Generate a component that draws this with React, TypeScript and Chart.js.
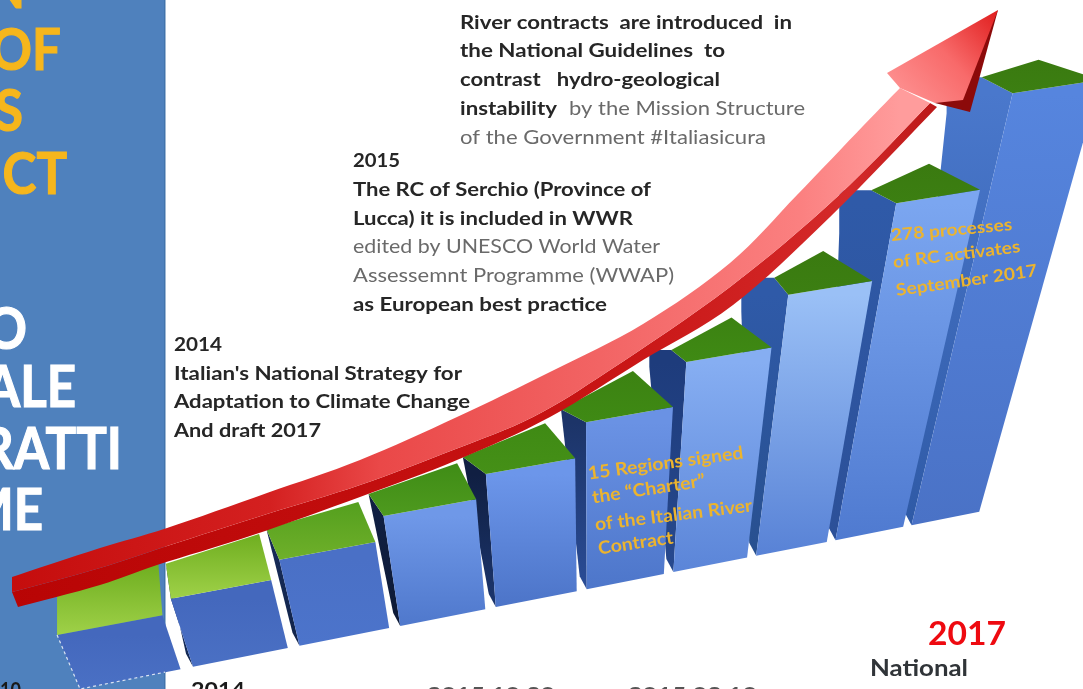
import React, { useEffect, useRef } from "react";
import { Chart, registerables } from "chart.js";

Chart.register(...registerables);

// ---- data ----
const barSlots = [16, 17, 18, 19, 20, 21, 22, 23, 24, 25];
const barHeights = [54, 68, 86, 110, 133, 167, 210, 261, 337, 432];

const arrowUpperX = [12, 100, 167, 267, 360, 457, 550, 643, 730, 797, 863, 900];
const arrowUpperY = [577, 548, 528, 493, 460, 417, 372, 324, 263, 195, 126, 88];
const arrowFoldX = [12, 100, 167, 267, 360, 453, 533, 610, 730, 837, 930];
const arrowFoldY = [592, 568, 546, 514, 485, 450, 417, 370, 287, 197, 103];
const arrowUnderX = [18, 100, 157, 253, 360, 457, 550, 643, 733, 830, 937];
const arrowUnderY = [607, 585, 565, 535, 497, 460, 417, 360, 305, 217, 107];
const arrowHeadX = [900, 887, 998, 970, 935];
const arrowHeadY = [88, 73, 10, 112, 103];

const panelOrange = ["OF", "S", "CT"];
const panelWhite = ["O", "ALE", "RATTI", "ME"];

const river2016 = [
  "River contracts  are introduced  in",
  "the National Guidelines  to",
  "contrast   hydro-geological",
];
const rc2015 = ["The RC of Serchio (Province of", "Lucca) it is included in WWR"];
const rc2015Plain = ["edited by UNESCO World Water", "Assessemnt Programme (WWAP)"];
const strategy2014 = [
  "Italian's National Strategy for",
  "Adaptation to Climate Change",
  "And draft 2017",
];
const regionsNote = ["15 Regions signed", "the \u201CCharter\u201D", "of the Italian River", "Contract"];
const processesNote = ["278 processes", "of RC activates", "September 2017"];

// ---- perspective of the 3D drawing (not data) ----
const VP = { x: 592, y: 1891 };
const GROUND_RISE = 0.197;
const WIDTH_SHARE = 0.89;
const backLeft = [[0, -45], [-5, -35], [-13, -31], [-15, -22], [-23, -17], [-25, -13], [-15, -12], [-14, -17], [-25, -13], [-31, -16]];
const backRight = [[-4, -51], [-12, -46], [-17, -40], [-19, -36], [-30, -35], [-40, -36], [-40, -30], [-49, -30], [-51, -26], [-62, -20]];
const sideReach = [null, null, null, null, null, null, [-37, 5], [-47, 16], [-57, 30], [-66, 20]];
const frontTop = ["#4468bd", "#4468bd", "#4a70c6", "#6f98e8", "#6c96ea", "#6a92e4", "#86aef2", "#9ac0f6", "#7ba6f0", "#5685de"];
const frontBottom = ["#4a70c4", "#4a70c4", "#4c74cb", "#4f78cc", "#4c74c8", "#4d76ca", "#5b85d8", "#5882d6", "#4f7ad0", "#4a72c6"];
const sideTop = ["#2a4c96", "#1b3570", "#162a56", "#101f42", "#101f42", "#1c3468", "#1e3c7c", "#2f5aa8", "#2f5aa8", "#4a78cc"];
const sideBottom = ["#2a4c96", "#12264e", "#12244a", "#0d1a36", "#1c366e", "#2a4c96", "#27498e", "#28508f", "#2c5098", "#2f5aa6"];
const greenA = ["#9fd148", "#9fd148", "#6fb02a", "#4e9a1e", "#459017", "#3f8a14", "#3f8a14", "#3c7f12", "#3c7f12", "#3c7f12"];
const greenB = ["#6fae20", "#6fae20", "#549f1e", "#3f8c16", "#3f8a14", "#3c8212", "#3c8212", "#3a7a10", "#3a7a10", "#3a7a10"];

const BODY = "Lato, 'Open Sans', sans-serif";

function fitted(ctx: CanvasRenderingContext2D, text: string, x1: number, y1: number, x2: number, y2: number, size: number, weight: string, color: string) {
  ctx.save();
  ctx.font = `${weight} ${size}px ${BODY}`;
  ctx.fillStyle = color;
  ctx.textBaseline = "alphabetic";
  ctx.textAlign = "left";
  const len = Math.hypot(x2 - x1, y2 - y1);
  ctx.translate(x1, y1);
  ctx.rotate(Math.atan2(y2 - y1, x2 - x1));
  ctx.scale(len / ctx.measureText(text).width, 1);
  ctx.fillText(text, 0, size * 0.36);
  ctx.restore();
}

function polygon(ctx: CanvasRenderingContext2D, pts: number[][], fill: any) {
  ctx.beginPath();
  pts.forEach((p, i) => (i ? ctx.lineTo(p[0], p[1]) : ctx.moveTo(p[0], p[1])));
  ctx.closePath();
  ctx.fillStyle = fill;
  ctx.fill();
}

function vGrad(ctx: CanvasRenderingContext2D, y0: number, y1: number, a: string, b: string) {
  const g = ctx.createLinearGradient(0, y0, 0, y1);
  g.addColorStop(0, a);
  g.addColorStop(1, b);
  return g;
}

// Catmull-Rom resampling, so the arrow's edges bend instead of kinking
function smooth(pts: number[][]) {
  const out: number[][] = [];
  for (let i = 0; i < pts.length - 1; i++) {
    const p0 = pts[Math.max(i - 1, 0)];
    const p1 = pts[i];
    const p2 = pts[i + 1];
    const p3 = pts[Math.min(i + 2, pts.length - 1)];
    for (let s = 0; s < 8; s++) {
      const t = s / 8;
      const f = (a: number, b: number, c: number, d: number) =>
        0.5 * (2 * b + (c - a) * t + (2 * a - 5 * b + 4 * c - d) * t * t + (3 * b - a - 3 * c + d) * t * t * t);
      out.push([f(p0[0], p1[0], p2[0], p3[0]), f(p0[1], p1[1], p2[1], p3[1])]);
    }
  }
  out.push(pts[pts.length - 1]);
  return out;
}

const slideBackdrop = {
  id: "slideBackdrop",
  beforeDatasetsDraw(chart: any) {
    const ctx: CanvasRenderingContext2D = chart.ctx;
    const w = chart.width;
    const h = chart.height;
    ctx.save();
    ctx.fillStyle = "#ffffff";
    ctx.fillRect(0, 0, w, h);
    ctx.fillStyle = "#4f81bd";
    ctx.fillRect(0, 0, 165, h);
    ctx.fillStyle = "#4274ac";
    ctx.fillRect(164, 0, 1.5, h);

    const big = (t: string, right: number, cy: number, color: string) => {
      ctx.save();
      ctx.font = `bold 58px ${BODY}`;
      ctx.fillStyle = color;
      ctx.strokeStyle = color;
      ctx.lineWidth = 1.2;
      ctx.textAlign = "right";
      ctx.textBaseline = "alphabetic";
      ctx.translate(right, cy + 20);
      ctx.scale(0.88, 1);
      ctx.fillText(t, 0, 0);
      ctx.strokeText(t, 0, 0);
      ctx.restore();
    };
    big("N", 25, -12, "#f6b61c");
    big(panelOrange[0], 61, 50, "#f6b61c");
    big(panelOrange[1], 23, 111, "#f6b61c");
    big(panelOrange[2], 67, 174, "#f6b61c");
    big(panelWhite[0], 27, 329, "#ffffff");
    big(panelWhite[1], 76, 387, "#ffffff");
    big(panelWhite[2], 122, 449, "#ffffff");
    big(panelWhite[3], 43, 510, "#ffffff");

    const dark = "#262626";
    const grey = "#6a6a6a";
    fitted(ctx, "2016", 460, -7, 507, -7, 19, "bold", dark);
    river2016.forEach((t, i) => {
      const ends = [792, 725, 720];
      const ys = [22, 50, 79];
      fitted(ctx, t, 460, ys[i], ends[i], ys[i], 19, "bold", dark);
    });
    fitted(ctx, "instability", 460, 108, 557, 108, 19, "bold", dark);
    fitted(ctx, "by the Mission Structure", 569, 108, 805, 108, 19, "normal", grey);
    fitted(ctx, "of the Government #Italiasicura", 460, 137, 766, 137, 19, "normal", grey);

    fitted(ctx, "2015", 353, 160, 400, 160, 19, "bold", dark);
    fitted(ctx, rc2015[0], 353, 189, 651, 189, 19, "bold", dark);
    fitted(ctx, rc2015[1], 353, 218, 633, 218, 19, "bold", dark);
    fitted(ctx, rc2015Plain[0], 353, 246, 660, 246, 19, "normal", grey);
    fitted(ctx, rc2015Plain[1], 353, 275, 674, 275, 19, "normal", grey);
    fitted(ctx, "as European best practice", 353, 304, 607, 304, 19, "bold", dark);

    fitted(ctx, "2014", 174, 344, 222, 344, 19, "bold", dark);
    fitted(ctx, strategy2014[0], 174, 373, 462, 373, 19, "bold", dark);
    fitted(ctx, strategy2014[1], 174, 401, 470, 401, 19, "bold", dark);
    fitted(ctx, strategy2014[2], 174, 430, 321, 430, 19, "bold", dark);

    fitted(ctx, "10", 0, 690, 21, 690, 20, "bold", "#1a1a1a");
    fitted(ctx, "2014", 191, 690, 245, 690, 20, "bold", "#1a1a1a");
    fitted(ctx, "2015 10 30", 427, 695, 555, 695, 20, "bold", "#555555");
    fitted(ctx, "2015 03 10", 628, 695, 757, 695, 20, "bold", "#555555");

    fitted(ctx, "2017", 928, 633, 1006, 633, 33, "bold", "#ee0a10");
    fitted(ctx, "National", 870, 668, 968, 668, 23, "bold", "#303438");
    ctx.restore();
  },
  beforeDatasetDraw() {
    return false; // every mark is painted below, from the scales' own pixels
  },
  afterDatasetsDraw(chart: any) {
    const ctx: CanvasRenderingContext2D = chart.ctx;
    const xScale = chart.scales.x;
    const bars = chart.getDatasetMeta(0).data;
    const slotX = barSlots.map((s) => xScale.getPixelForValue(s));
    const x0 = slotX[0];
    const ground = (x: number, base: number) => base - GROUND_RISE * (x - x0);
    const lift = (gx: number, g: number, h: number) => {
      const y = g - h;
      return [VP.x + ((gx - VP.x) * (VP.y - y)) / (VP.y - g), y];
    };

    ctx.save();
    for (let i = bars.length - 1; i >= 0; i--) {
      const el = bars[i];
      const h = el.base - el.y;
      const spacing = i < bars.length - 1 ? slotX[i + 1] - slotX[i] : slotX[i] - slotX[i - 1];
      const left = slotX[i];
      const right = left + spacing * WIDTH_SHARE;
      const gL = ground(left, el.base);
      const gR = ground(right, el.base);
      const fl = lift(left, gL, h);
      const fr = lift(right, gR, h);
      const bl = [fl[0] + backLeft[i][0], fl[1] + backLeft[i][1]];
      const br = [fr[0] + backRight[i][0], fr[1] + backRight[i][1]];
      const reach = sideReach[i];
      const foot = [left - 7, gL - 13];
      if (i > 0) {
        const edge = reach
          ? [bl, [fl[0] + reach[0], bl[1]], [fl[0] + reach[0], fl[1] + reach[1]]]
          : [bl];
        polygon(ctx, [fl, ...edge, foot, [left, gL]], vGrad(ctx, fl[1], gL, sideTop[i], sideBottom[i]));
      }
      polygon(ctx, [fl, fr, [right, gR], [left, gL]], vGrad(ctx, fl[1], gL, frontTop[i], frontBottom[i]));
      polygon(ctx, [fl, bl, br, fr], vGrad(ctx, br[1], fl[1], greenB[i], greenA[i]));
      if (i === 0) {
        ctx.strokeStyle = "rgba(255,255,255,0.8)";
        ctx.lineWidth = 1.2;
        ctx.setLineDash([3, 3]);
        ctx.beginPath();
        ctx.moveTo(fl[0], fl[1]);
        ctx.lineTo(left, gL);
        ctx.lineTo(165, gR + 3);
        ctx.stroke();
        ctx.setLineDash([]);
      }
    }

    // arrow
    const pts = (k: number) => chart.getDatasetMeta(k).data.map((p: any) => [p.x, p.y]);
    const upper = smooth(pts(1));
    const fold = smooth(pts(2));
    const under = smooth(pts(3));
    const head = pts(4);
    const gUnder = ctx.createLinearGradient(0, 0, 1000, 0);
    gUnder.addColorStop(0, "#b80404");
    gUnder.addColorStop(0.6, "#c81414");
    gUnder.addColorStop(0.85, "#d42a2a");
    gUnder.addColorStop(1, "#a80a0a");
    polygon(ctx, [...fold, ...under.slice().reverse()], gUnder);
    const gTop = ctx.createLinearGradient(0, 0, 1000, 0);
    gTop.addColorStop(0, "#c40c0c");
    gTop.addColorStop(0.27, "#d42020");
    gTop.addColorStop(0.38, "#ea4848");
    gTop.addColorStop(0.6, "#f26464");
    gTop.addColorStop(0.8, "#fb8080");
    gTop.addColorStop(0.9, "#ff9c9c");
    polygon(ctx, [...upper, ...fold.slice().reverse()], gTop);

    // head: dark under-edge, then the pink face
    const [neck, barb, tip, lowBarb, inner] = head;
    polygon(ctx, [inner, lowBarb, tip], "#8c0a0a");
    const gHead = ctx.createLinearGradient(barb[0], lowBarb[1], tip[0], tip[1]);
    gHead.addColorStop(0, "#ff9c9c");
    gHead.addColorStop(0.55, "#f86a6a");
    gHead.addColorStop(1, "#e01c1c");
    polygon(ctx, [neck, barb, tip, [963, 100], inner], gHead);

    // notes on the bars
    const gold = "#ecb42e";
    fitted(ctx, regionsNote[0], 588, 473, 743, 452, 18, "bold", gold);
    fitted(ctx, regionsNote[1], 592, 497, 705, 480, 18, "bold", gold);
    fitted(ctx, regionsNote[2], 595, 524, 752, 505, 18, "bold", gold);
    fitted(ctx, regionsNote[3], 598, 548, 673, 537, 18, "bold", gold);
    fitted(ctx, processesNote[0], 891, 235, 1012, 224, 17, "bold", gold);
    fitted(ctx, processesNote[1], 893, 262, 1020, 246, 17, "bold", gold);
    fitted(ctx, processesNote[2], 896, 290, 1037, 270, 17, "bold", gold);
    ctx.restore();
  },
};

const guide = (label: string, xs: number[], ys: number[]) => ({
  type: "line" as const,
  label,
  xAxisID: "xPic",
  yAxisID: "yPic",
  showLine: false,
  pointRadius: 0,
  data: xs.map((x, i) => ({ x, y: ys[i] })),
});

export default function App() {
  const ref = useRef<HTMLCanvasElement | null>(null);
  useEffect(() => {
    if (!ref.current) return;
    const chart = new Chart(ref.current, {
      type: "bar",
      data: {
        datasets: [
          {
            label: "River contracts",
            xAxisID: "x",
            yAxisID: "y",
            data: barSlots.map((x, i) => ({ x, y: barHeights[i] })),
          },
          guide("Arrow upper edge", arrowUpperX, arrowUpperY),
          guide("Arrow fold", arrowFoldX, arrowFoldY),
          guide("Arrow under edge", arrowUnderX, arrowUnderY),
          guide("Arrow head", arrowHeadX, arrowHeadY),
        ] as any,
      },
      options: {
        animation: false,
        responsive: false,
        devicePixelRatio: 1,
        layout: { padding: 0 },
        plugins: { legend: { display: false }, tooltip: { enabled: false }, title: { display: false } },
        scales: {
          x: { type: "logarithmic", min: 15.327, max: 27.41, bounds: "data", display: false, offset: false } as any,
          xPic: { type: "linear", min: 0, max: 1083, display: false, offset: false },
          y: { type: "linear", min: 0, max: 689, display: false },
          yPic: { type: "linear", min: 0, max: 689, reverse: true, display: false },
        },
      },
      plugins: [slideBackdrop],
    });
    return () => chart.destroy();
  }, []);
  return (
    <div style={{ position: "fixed", left: 0, top: 0, width: 1083, height: 689, overflow: "hidden", background: "#fff" }}>
      <canvas ref={ref} width={1083} height={689} style={{ display: "block", filter: "blur(0.6px)" }} />
    </div>
  );
}
